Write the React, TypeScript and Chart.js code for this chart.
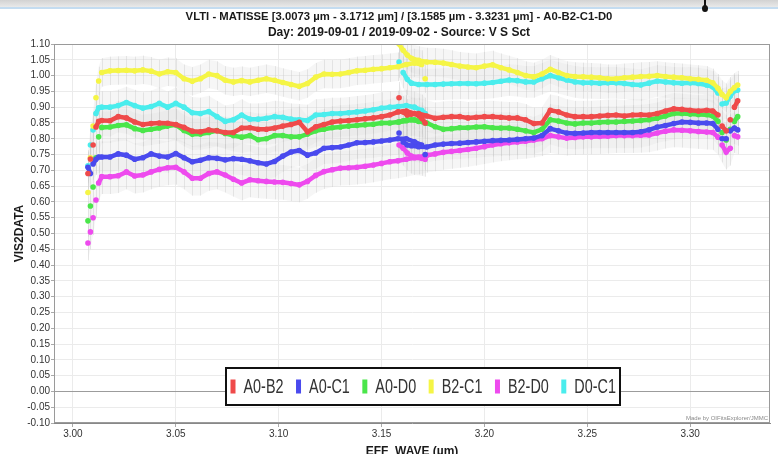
import React, { useEffect, useRef } from 'react';
import { Chart, registerables } from 'chart.js';

Chart.register(...registerables);

const TITLE = 'VLTI - MATISSE [3.0073 µm - 3.1712 µm] / [3.1585 µm - 3.3231 µm] - A0-B2-C1-D0';
const SUBTITLE = 'Day: 2019-09-01 / 2019-09-02 - Source: V S Sct';
const X_TITLE = 'EFF_WAVE (µm)';
const Y_TITLE = 'VIS2DATA';
const CREDIT = 'Made by OIFitsExplorer/JMMC';

const SERIES = ['A0-B2', 'A0-C1', 'A0-D0', 'B2-C1', 'B2-D0', 'D0-C1'];
const COLORS = ['#ef4a4a', '#4a4aee', '#4ae64a', '#f5f545', '#ee4aee', '#4aeded'];

const X_MIN = 2.9908;
const X_MAX = 3.3388;
const X_STEP = 0.05;
const Y_MIN = -0.1;
const Y_MAX = 1.1;
const Y_STEP = 0.05;

// wavelengths of the two spectral windows (µm)
const WAVE1 = [3.0073, 3.0085, 3.0098, 3.0112, 3.0125, 3.014, 3.018, 3.022, 3.026, 3.03, 3.034, 3.038, 3.042, 3.046, 3.05, 3.054, 3.058, 3.062, 3.066, 3.07, 3.074, 3.078, 3.082, 3.086, 3.09, 3.094, 3.098, 3.102, 3.106, 3.11, 3.114, 3.118, 3.122, 3.126, 3.13, 3.134, 3.138, 3.142, 3.146, 3.15, 3.154, 3.158, 3.162, 3.166, 3.1695, 3.1712];
const WAVE2 = [3.1585, 3.1605, 3.1625, 3.1645, 3.168, 3.172, 3.176, 3.18, 3.184, 3.188, 3.192, 3.196, 3.2, 3.204, 3.208, 3.212, 3.216, 3.22, 3.224, 3.228, 3.232, 3.236, 3.24, 3.244, 3.248, 3.252, 3.256, 3.26, 3.264, 3.268, 3.272, 3.276, 3.28, 3.284, 3.288, 3.292, 3.296, 3.3, 3.304, 3.308, 3.311, 3.3135, 3.3155, 3.3175, 3.3195, 3.3215, 3.3231];

// VIS2DATA, first window
const A0B2_1 = [0.69, 0.736, 0.78, 0.837, 0.855, 0.858, 0.857, 0.87, 0.866, 0.853, 0.845, 0.848, 0.85, 0.849, 0.845, 0.836, 0.824, 0.822, 0.828, 0.825, 0.82, 0.82, 0.834, 0.835, 0.83, 0.83, 0.834, 0.84, 0.845, 0.852, 0.822, 0.838, 0.845, 0.853, 0.856, 0.858, 0.86, 0.863, 0.866, 0.87, 0.875, 0.885, 0.888, 0.88, 0.865, 0.85];
const A0C1_1 = [0.71, 0.69, 0.72, 0.735, 0.742, 0.742, 0.742, 0.752, 0.748, 0.735, 0.74, 0.752, 0.745, 0.742, 0.753, 0.74, 0.727, 0.732, 0.74, 0.738, 0.733, 0.737, 0.735, 0.73, 0.724, 0.72, 0.728, 0.745, 0.758, 0.763, 0.748, 0.755, 0.77, 0.772, 0.774, 0.78, 0.787, 0.788, 0.79, 0.793, 0.796, 0.8, 0.8, 0.79, 0.78, 0.75];
const A0D0_1 = [0.54, 0.587, 0.647, 0.74, 0.806, 0.836, 0.837, 0.842, 0.844, 0.832, 0.826, 0.83, 0.834, 0.84, 0.844, 0.826, 0.814, 0.815, 0.82, 0.826, 0.817, 0.81, 0.805, 0.81, 0.797, 0.8, 0.81, 0.81, 0.806, 0.806, 0.815, 0.825, 0.83, 0.835, 0.837, 0.84, 0.842, 0.844, 0.846, 0.85, 0.85, 0.853, 0.857, 0.86, 0.855, 0.85];
const B2C1_1 = [0.63, 0.74, 0.84, 0.93, 0.983, 1.01, 1.015, 1.016, 1.017, 1.015, 1.018, 1.014, 1.005, 1.012, 1.01, 0.99, 0.982, 0.99, 1.005, 1.0, 0.985, 0.98, 0.984, 0.98, 0.985, 0.99, 0.985, 0.978, 0.972, 0.966, 0.975, 0.995, 1.005, 1.004, 1.005, 1.01, 1.015, 1.017, 1.02, 1.022, 1.025, 1.028, 1.035, 1.04, 1.035, 0.99];
const B2D0_1 = [0.47, 0.505, 0.55, 0.606, 0.66, 0.68, 0.68, 0.683, 0.695, 0.682, 0.685, 0.695, 0.703, 0.708, 0.71, 0.695, 0.675, 0.675, 0.69, 0.695, 0.685, 0.672, 0.66, 0.67, 0.667, 0.665, 0.663, 0.662, 0.658, 0.654, 0.665, 0.684, 0.696, 0.702, 0.707, 0.708, 0.71, 0.713, 0.717, 0.722, 0.727, 0.73, 0.735, 0.74, 0.738, 0.735];
const D0C1_1 = [0.714, 0.78, 0.828, 0.88, 0.898, 0.9, 0.9, 0.905, 0.915, 0.905, 0.897, 0.902, 0.912, 0.9, 0.912, 0.9, 0.882, 0.88, 0.886, 0.87, 0.855, 0.86, 0.875, 0.862, 0.862, 0.865, 0.87, 0.868, 0.862, 0.86, 0.858, 0.875, 0.877, 0.88, 0.88, 0.882, 0.885, 0.888, 0.892, 0.897, 0.9, 0.902, 0.905, 0.9, 0.89, 0.88];

// VIS2DATA, second window
const A0B2_2 = [0.93, 0.885, 0.875, 0.878, 0.88, 0.872, 0.865, 0.868, 0.87, 0.87, 0.866, 0.868, 0.87, 0.87, 0.868, 0.866, 0.866, 0.86, 0.848, 0.85, 0.89, 0.885, 0.875, 0.87, 0.87, 0.87, 0.872, 0.874, 0.875, 0.872, 0.875, 0.876, 0.875, 0.88, 0.888, 0.895, 0.893, 0.89, 0.888, 0.89, 0.888, 0.875, 0.84, 0.825, 0.86, 0.9, 0.92];
const A0C1_2 = [0.818, 0.79, 0.78, 0.778, 0.775, 0.774, 0.78, 0.783, 0.785, 0.786, 0.788, 0.79, 0.792, 0.794, 0.795, 0.796, 0.798, 0.8, 0.802, 0.81, 0.832, 0.825, 0.818, 0.817, 0.818, 0.82, 0.82, 0.82, 0.82, 0.82, 0.82, 0.822, 0.828, 0.837, 0.842, 0.848, 0.853, 0.852, 0.85, 0.85, 0.848, 0.83, 0.8, 0.8, 0.825, 0.834, 0.828];
const A0D0_2 = [0.853, 0.857, 0.86, 0.86, 0.855, 0.85, 0.838, 0.83, 0.832, 0.835, 0.835, 0.837, 0.838, 0.835, 0.834, 0.834, 0.83, 0.825, 0.82, 0.83, 0.86, 0.856, 0.85, 0.847, 0.85, 0.85, 0.852, 0.853, 0.853, 0.855, 0.856, 0.858, 0.86, 0.865, 0.872, 0.88, 0.88, 0.878, 0.877, 0.876, 0.872, 0.855, 0.82, 0.796, 0.83, 0.855, 0.87];
const B2C1_2 = [1.1, 1.08, 1.065, 1.055, 1.048, 1.043, 1.042, 1.04, 1.035, 1.03, 1.027, 1.025, 1.03, 1.034, 1.025, 1.018, 1.01, 1.0, 0.996, 1.005, 1.02, 1.01, 1.0, 0.997, 0.996, 0.995, 0.993, 0.99, 0.99, 0.993, 0.995, 0.997, 0.998, 1.0, 0.997, 0.995, 0.993, 0.99, 0.988, 0.985, 0.977, 0.96, 0.94, 0.93, 0.95, 0.962, 0.97];
const B2D0_2 = [0.78, 0.77, 0.755, 0.745, 0.742, 0.748, 0.752, 0.757, 0.76, 0.763, 0.766, 0.77, 0.775, 0.78, 0.784, 0.787, 0.79, 0.792, 0.796, 0.8, 0.81, 0.806, 0.802, 0.804, 0.806, 0.806, 0.807, 0.808, 0.81, 0.81, 0.81, 0.811, 0.812, 0.818, 0.824, 0.828, 0.827, 0.825, 0.823, 0.821, 0.82, 0.805, 0.78, 0.758, 0.77, 0.81, 0.806];
const D0C1_2 = [1.043, 1.01, 0.988, 0.976, 0.972, 0.972, 0.972, 0.973, 0.974, 0.975, 0.975, 0.974, 0.976, 0.978, 0.982, 0.986, 0.984, 0.98, 0.98, 0.99, 1.0, 0.993, 0.986, 0.98, 0.977, 0.977, 0.976, 0.977, 0.977, 0.975, 0.972, 0.97, 0.976, 0.983, 0.98, 0.977, 0.976, 0.977, 0.975, 0.97, 0.964, 0.945, 0.91, 0.913, 0.935, 0.952, 0.954];

// typical 1-sigma error per baseline
const ERR = [0.05, 0.05, 0.05, 0.045, 0.055, 0.05];

const WINDOW1 = [A0B2_1, A0C1_1, A0D0_1, B2C1_1, B2D0_1, D0C1_1];
const WINDOW2 = [A0B2_2, A0C1_2, A0D0_2, B2C1_2, B2D0_2, D0C1_2];

const FONT = '"Liberation Sans", Arial, sans-serif';

function segmentsOf(i: number) {
  return [
    WAVE1.map((w, j) => ({ x: w, y: WINDOW1[i][j] })),
    WAVE2.map((w, j) => ({ x: w, y: WINDOW2[i][j] })),
  ];
}

const errorBarsPlugin = {
  id: 'errorBars',
  beforeDatasetsDraw(chart: any) {
    const { ctx, chartArea, scales } = chart;
    const xs = scales.x;
    const ys = scales.y;
    ctx.save();
    ctx.beginPath();
    ctx.rect(chartArea.left, chartArea.top, chartArea.right - chartArea.left, chartArea.bottom - chartArea.top);
    ctx.clip();
    // light band
    SERIES.forEach((_, i) => {
      segmentsOf(i).forEach((seg) => {
        ctx.beginPath();
        seg.forEach((p, k) => {
          const px = xs.getPixelForValue(p.x);
          const py = ys.getPixelForValue(p.y + ERR[i]);
          if (k === 0) ctx.moveTo(px, py);
          else ctx.lineTo(px, py);
        });
        for (let k = seg.length - 1; k >= 0; k--) {
          const p = seg[k];
          ctx.lineTo(xs.getPixelForValue(p.x), ys.getPixelForValue(p.y - ERR[i]));
        }
        ctx.closePath();
        ctx.fillStyle = 'rgba(228,228,228,0.32)';
        ctx.fill();
      });
    });
    // bars
    ctx.strokeStyle = 'rgba(200,200,200,0.42)';
    ctx.lineWidth = 1;
    SERIES.forEach((_, i) => {
      segmentsOf(i).forEach((seg) => {
        seg.forEach((p) => {
          const px = Math.round(xs.getPixelForValue(p.x)) + 0.5;
          ctx.beginPath();
          ctx.moveTo(px, ys.getPixelForValue(p.y + ERR[i]));
          ctx.lineTo(px, ys.getPixelForValue(p.y - ERR[i]));
          ctx.stroke();
        });
      });
    });
    ctx.restore();
  },
};

const decorPlugin = {
  id: 'decor',
  afterDraw(chart: any) {
    const { ctx, chartArea } = chart;
    ctx.save();
    // plot frame
    ctx.strokeStyle = '#9a9a9a';
    ctx.lineWidth = 1;
    ctx.strokeRect(chartArea.left + 0.5, chartArea.top + 0.5, chartArea.right - chartArea.left - 1, chartArea.bottom - chartArea.top - 1);

    // titles
    ctx.fillStyle = '#1a1a1a';
    ctx.textAlign = 'center';
    ctx.textBaseline = 'middle';
    ctx.font = `bold 11.3px ${FONT}`;
    ctx.fillText(TITLE, 399, 17);
    ctx.font = `bold 12px ${FONT}`;
    ctx.fillText(SUBTITLE, 399, 33);

    // legend inside plot
    const lx = 226;
    const ly = 368;
    const lw = 394;
    const lh = 37;
    ctx.fillStyle = '#ffffff';
    ctx.fillRect(lx, ly, lw, lh);
    ctx.strokeStyle = '#111111';
    ctx.lineWidth = 2;
    ctx.strokeRect(lx, ly, lw, lh);
    ctx.font = `20px ${FONT}`;
    ctx.textAlign = 'left';
    const sx = 0.72;
    let cx = 230.5;
    const cy = ly + lh / 2;
    SERIES.forEach((name, i) => {
      ctx.fillStyle = COLORS[i];
      ctx.fillRect(cx, cy - 7, 5, 14);
      cx += 13;
      const w = ctx.measureText(name).width * sx;
      ctx.save();
      ctx.translate(cx, cy + 0.5);
      ctx.scale(sx, 1);
      ctx.fillStyle = '#333333';
      ctx.fillText(name, 0, 0);
      ctx.restore();
      cx += w + 12.5;
    });

    // credit
    ctx.font = `6px ${FONT}`;
    ctx.fillStyle = '#8a8a8a';
    ctx.textAlign = 'right';
    ctx.fillText(CREDIT, chartArea.right - 2, chartArea.bottom - 5);
    ctx.restore();
  },
};

export default function App() {
  const canvasRef = useRef<HTMLCanvasElement | null>(null);

  useEffect(() => {
    if (!canvasRef.current) return;
    const datasets = SERIES.map((name, i) => {
      const [s1, s2] = segmentsOf(i);
      return {
        label: name,
        data: [...s1, { x: WAVE2[0], y: null as any }, ...s2],
        borderColor: COLORS[i],
        backgroundColor: COLORS[i],
        borderWidth: 4.5,
        pointRadius: 2.8,
        pointBorderWidth: 0,
        pointHoverRadius: 2.8,
        showLine: true,
        spanGaps: false,
        tension: 0,
        segment: {
          borderColor: (c: any) =>
            Math.abs(c.p1.y - c.p0.y) > 7 && Math.abs(c.p1.x - c.p0.x) < 6 ? 'rgba(0,0,0,0)' : undefined,
        },
      };
    });

    const chart = new Chart(canvasRef.current, {
      type: 'scatter',
      data: { datasets } as any,
      plugins: [errorBarsPlugin, decorPlugin],
      options: {
        animation: false,
        responsive: false,
        events: [],
        layout: { padding: { top: 44, right: 8, bottom: 0, left: 0 } },
        plugins: {
          legend: { display: false },
          title: { display: false },
          tooltip: { enabled: false },
        },
        scales: {
          x: {
            type: 'linear',
            min: X_MIN,
            max: X_MAX,
            afterFit: (s: any) => {
              s.height = 31;
            },
            ticks: {
              stepSize: X_STEP,
              includeBounds: false,
              padding: 1,
              color: '#333333',
              font: { family: FONT, size: 10 },
              callback: (v: any) => Number(v).toFixed(2),
            },
            grid: { color: '#ebebeb', tickLength: 4, tickColor: '#aaaaaa' },
            border: { color: '#888888' },
            title: {
              display: true,
              text: X_TITLE,
              color: '#1a1a1a',
              font: { family: FONT, size: 12, weight: 'bold' },
              padding: { top: 0, bottom: -5 },
            },
          },
          y: {
            type: 'linear',
            min: Y_MIN,
            max: Y_MAX,
            afterFit: (s: any) => {
              s.width = 54;
            },
            ticks: {
              stepSize: Y_STEP,
              padding: 1,
              color: '#333333',
              font: { family: FONT, size: 10 },
              callback: (v: any) => Number(v).toFixed(2),
            },
            grid: {
              color: (c: any) => (c.tick && Math.abs(c.tick.value) < 1e-9 ? '#9c9c9c' : '#ebebeb'),
              tickLength: 3,
              tickColor: '#aaaaaa',
            },
            border: { color: '#888888' },
            title: {
              display: true,
              text: Y_TITLE,
              color: '#1a1a1a',
              font: { family: FONT, size: 12, weight: 'bold' },
              padding: { top: 12.8, bottom: 0 },
            },
          },
        },
      } as any,
    });
    return () => chart.destroy();
  }, []);

  return (
    <div style={{ position: 'fixed', left: 0, top: 0, width: 778, height: 454, background: '#ffffff', overflow: 'hidden' }}>
      <canvas
        ref={canvasRef}
        width={778}
        height={454}
        style={{ position: 'absolute', left: 0, top: 0, width: 778, height: 454 }}
      />
      <div
        style={{
          position: 'absolute',
          left: 0,
          top: 0,
          width: 778,
          height: 7,
          background: 'linear-gradient(#d2d2d2, #e9e9e9)',
          borderBottom: '2px solid #c4dcf0',
        }}
      />
      <div style={{ position: 'absolute', left: 704, top: 0, width: 2, height: 8, background: '#111' }} />
      <div style={{ position: 'absolute', left: 702, top: 5, width: 6, height: 7, borderRadius: '50%', background: '#111' }} />
    </div>
  );
}
